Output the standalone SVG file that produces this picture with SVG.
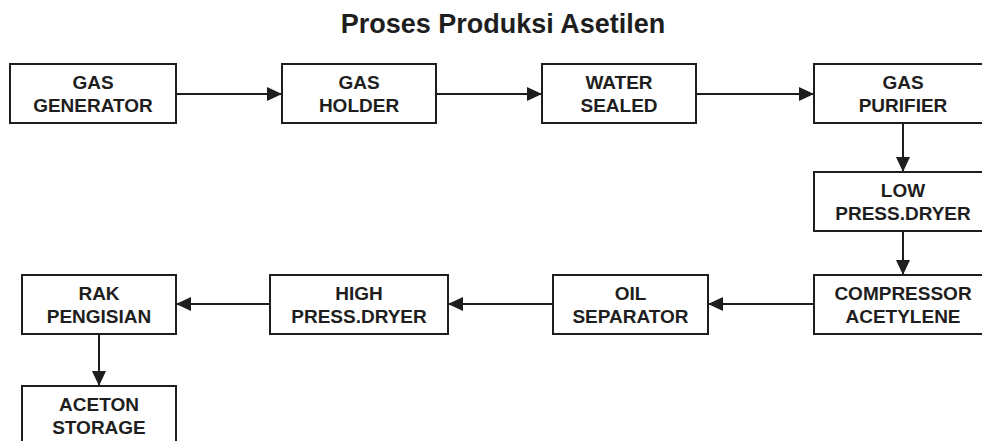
<svg xmlns="http://www.w3.org/2000/svg" width="982" height="441" viewBox="0 0 982 441">
<style>
.box{fill:#fff;stroke:#1e1e1e;stroke-width:2}
.t{font-family:"Liberation Sans",Arial,sans-serif;font-weight:bold;font-size:19px;fill:#1e1e1e;text-anchor:middle}
.title{font-family:"Liberation Sans",Arial,sans-serif;font-weight:bold;font-size:27px;fill:#1e1e1e;text-anchor:middle}
.c{fill:none;stroke:#1e1e1e;stroke-width:2;marker-end:url(#arr)}
</style>
<defs>
<marker id="arr" markerUnits="userSpaceOnUse" markerWidth="16" markerHeight="15" refX="15" refY="7" orient="auto">
<path d="M0,0 L15,7 L0,14 z" fill="#1e1e1e"/>
</marker>
</defs>
<rect width="982" height="441" fill="#fff"/>
<text class="title" x="503" y="33">Proses Produksi Asetilen</text>
<g id="connectors">
<line class="c" x1="176" y1="94" x2="282" y2="94"/>
<line class="c" x1="436" y1="94" x2="542" y2="94"/>
<line class="c" x1="696" y1="94" x2="814" y2="94"/>
<line class="c" x1="903" y1="123" x2="903" y2="172"/>
<line class="c" x1="903" y1="231" x2="903" y2="275"/>
<line class="c" x1="814" y1="304" x2="708" y2="304"/>
<line class="c" x1="553" y1="304" x2="448" y2="304"/>
<line class="c" x1="270" y1="304" x2="176" y2="304"/>
<line class="c" x1="99" y1="334" x2="99" y2="386"/>
</g>
<g id="gas-generator"><rect class="box" x="10" y="64" width="166" height="59"/><text class="t" x="93" y="89">GAS</text><text class="t" x="93" y="112">GENERATOR</text></g>
<g id="gas-holder"><rect class="box" x="282" y="64" width="154" height="59"/><text class="t" x="359" y="89">GAS</text><text class="t" x="359" y="112">HOLDER</text></g>
<g id="water-sealed"><rect class="box" x="542" y="64" width="154" height="59"/><text class="t" x="619" y="89">WATER</text><text class="t" x="619" y="112">SEALED</text></g>
<g id="gas-purifier"><rect class="box" x="814" y="64" width="178" height="59"/><text class="t" x="903" y="89">GAS</text><text class="t" x="903" y="112">PURIFIER</text></g>
<g id="low-press-dryer"><rect class="box" x="814" y="172" width="178" height="59"/><text class="t" x="903" y="197">LOW</text><text class="t" x="903" y="220">PRESS.DRYER</text></g>
<g id="compressor-acetylene"><rect class="box" x="814" y="275" width="178" height="59"/><text class="t" x="903" y="300">COMPRESSOR</text><text class="t" x="903" y="323">ACETYLENE</text></g>
<g id="oil-separator"><rect class="box" x="553" y="275" width="155" height="59"/><text class="t" x="630.5" y="300">OIL</text><text class="t" x="630.5" y="323">SEPARATOR</text></g>
<g id="high-press-dryer"><rect class="box" x="270" y="275" width="178" height="59"/><text class="t" x="359" y="300">HIGH</text><text class="t" x="359" y="323">PRESS.DRYER</text></g>
<g id="rak-pengisian"><rect class="box" x="22" y="275" width="154" height="59"/><text class="t" x="99" y="300">RAK</text><text class="t" x="99" y="323">PENGISIAN</text></g>
<g id="aceton-storage"><rect class="box" x="22" y="386" width="154" height="70"/><text class="t" x="99" y="411">ACETON</text><text class="t" x="99" y="434">STORAGE</text></g>
</svg>
